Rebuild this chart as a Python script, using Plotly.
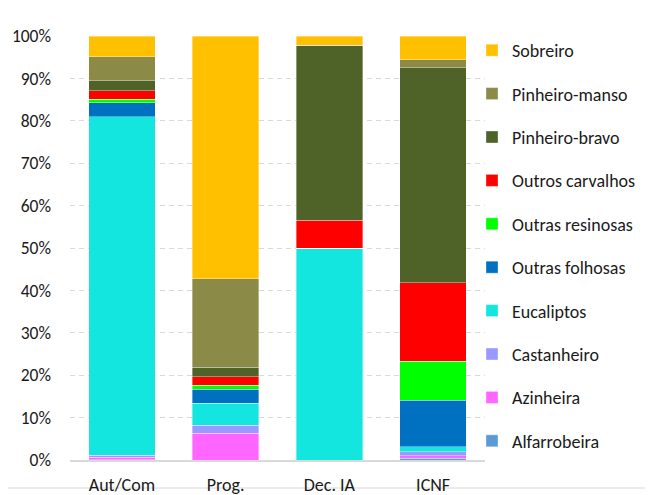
import plotly.graph_objects as go

categories = ["Aut/Com", "Prog.", "Dec. IA", "ICNF"]

series_names = ["Alfarrobeira", "Azinheira", "Castanheiro", "Eucaliptos",
                "Outras folhosas", "Outras resinosas", "Outros carvalhos",
                "Pinheiro-bravo", "Pinheiro-manso", "Sobreiro"]

alfarrobeira = [0.1, 0.0, 0.0, 0.4]
azinheira = [0.5, 6.3, 0.0, 0.6]
castanheiro = [0.5, 1.9, 0.0, 0.9]
eucaliptos = [79.8, 5.2, 50.0, 1.2]
outras_folhosas = [3.3, 3.3, 0.0, 11.0]
outras_resinosas = [0.9, 0.9, 0.0, 9.2]
outros_carvalhos = [2.0, 2.0, 6.5, 18.5]
pinheiro_bravo = [2.4, 2.3, 41.3, 50.7]
pinheiro_manso = [5.6, 20.9, 0.0, 1.9]
sobreiro = [4.9, 57.2, 2.2, 5.6]

series_values = [alfarrobeira, azinheira, castanheiro, eucaliptos, outras_folhosas,
                 outras_resinosas, outros_carvalhos, pinheiro_bravo, pinheiro_manso, sobreiro]

colors = ["#5B9BD5", "#FF66FF", "#9999FF", "#12E6DF", "#0070C0",
          "#00FF00", "#FF0000", "#4F6228", "#8B8A46", "#FFC000"]

y_ticks = list(range(0, 101, 10))
y_tick_labels = [f"{v}%" for v in y_ticks]

FONT = "Calibri, Carlito, Lato, sans-serif"

# page body has an 8px margin; offsets compensate for it
L, T, PW, PH = 62, 28, 415, 424

fig = go.Figure()
n = len(series_names)
for i, (name, vals, col) in enumerate(zip(series_names, series_values, colors)):
    fig.add_trace(go.Bar(
        x=categories, y=vals, name=name, legendgroup=name, legendrank=n - i,
        marker=dict(color=col, line=dict(color="rgba(255,255,255,0.6)", width=0.6)),
    ))

fig.update_layout(
    barmode="stack",
    bargap=0.36,
    width=653, height=495,
    margin=dict(l=L, r=653 - L - PW, t=T, b=495 - T - PH, autoexpand=False),
    paper_bgcolor="white",
    plot_bgcolor="white",
    font=dict(family=FONT, size=18, color="#1a1a1a"),
    showlegend=True,
    legend=dict(
        traceorder="grouped",
        tracegroupgap=17,
        x=1 - 13 / PW, xanchor="left",
        y=1 + 4 / PH, yanchor="top",
        maxheight=480,
        font=dict(family=FONT, size=18, color="#1a1a1a"),
        itemwidth=30,
        bgcolor="rgba(0,0,0,0)",
    ),
    xaxis=dict(
        showline=True, linecolor="#d9d9d9", linewidth=1.5, automargin=False,
        ticks="", tickfont=dict(size=18), ticklabelstandoff=8,
    ),
    yaxis=dict(
        range=[0, 100], automargin=False,
        tickvals=y_ticks, ticktext=y_tick_labels,
        showgrid=True, gridcolor="#d9d9d9", griddash="5px,4px", gridwidth=1.3,
        zeroline=False, ticks="", ticklabelstandoff=18,
        tickfont=dict(size=17.5),
    ),
    shapes=[dict(
        type="rect", xref="paper", yref="paper",
        x0=(7 - 70) / PW, x1=(646 - 70) / PW,
        y0=(460 - 488) / PH, y1=(460 - 7) / PH,
        line=dict(color="#d9d9d9", width=1.2), layer="below",
    )],
)

fig.write_html("out.html")
